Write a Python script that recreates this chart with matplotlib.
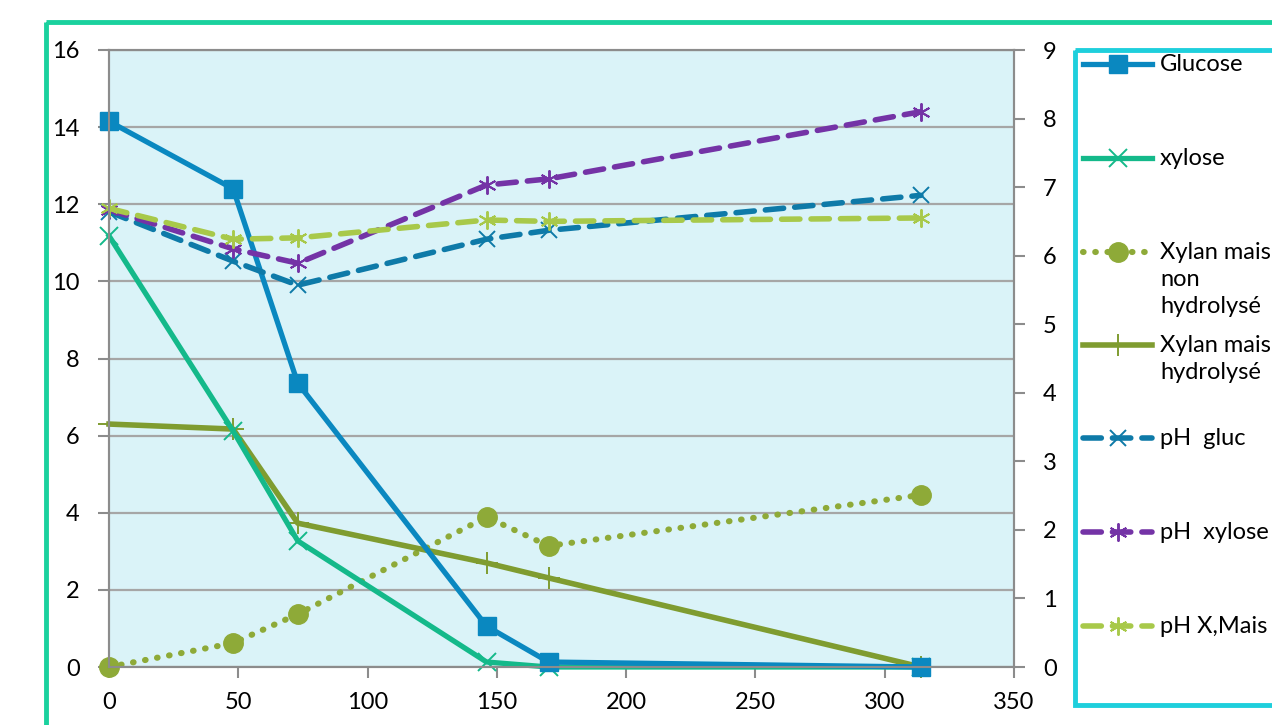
import matplotlib.pyplot as plt
from matplotlib.patches import Rectangle
from matplotlib.lines import Line2D

# hydrolysis follow-up: sugars (left axis, g/L) and pH (right axis) vs time
hours = [0, 48, 73, 146, 170, 314]
glucose = [14.15, 12.4, 7.36, 1.06, 0.13, 0.0]
xylose = [11.18, 6.12, 3.27, 0.13, 0.0, 0.0]
xylan_non_hyd = [0.0, 0.62, 1.37, 3.89, 3.14, 4.46]
xylan_hyd = [6.3, 6.17, 3.73, 2.7, 2.31, 0.0]
ph_gluc = [6.64, 5.92, 5.57, 6.24, 6.37, 6.88]
ph_xylose = [6.67, 6.1, 5.89, 7.03, 7.12, 8.1]
ph_xmais = [6.69, 6.24, 6.26, 6.52, 6.5, 6.55]

labels = ["Glucose", "xylose", "Xylan mais\nnon\nhydrolysé", "Xylan mais\nhydrolysé",
          "pH  gluc", "pH  xylose", "pH X,Mais"]

plt.rcParams['font.family'] = ['Lato', 'DejaVu Sans']

W, H = 1272, 725
fig = plt.figure(figsize=(W / 100, H / 100), dpi=100)
fig.patch.set_facecolor('white')

ax = fig.add_axes([109 / W, 1 - 667 / H, (1014 - 109) / W, (667 - 50) / H])
ax.set_facecolor('#daf3f8')
ax2 = ax.twinx()

dash = dict(linestyle=(0, (3.3, 2.0)), dash_capstyle='round', lw=4.0)

# styles: label -> (axis, y, kwargs)
series = [
    (ax, glucose, dict(color='#0a88c0', lw=3.8, marker='s', ms=13, zorder=5)),
    (ax, xylose, dict(color='#14b98a', lw=3.8, marker='x', ms=13, mew=1.4, zorder=4)),
    (ax, xylan_non_hyd, dict(color='#8eaa38', lw=4.4, linestyle=(0, (0.1, 1.9)),
                             dash_capstyle='round', marker='o', ms=14, zorder=3)),
    (ax, xylan_hyd, dict(color='#7f9c30', lw=4.0, marker='+', ms=16, mew=1.4, zorder=3)),
    (ax2, ph_gluc, dict(color='#0e7aa8', marker='x', ms=12, mew=1.4, **dash)),
    (ax2, ph_xylose, dict(color='#7433a6', marker=(6, 2, 0), ms=13, mew=1.4, **dash)),
    (ax2, ph_xmais, dict(color='#a8c94a', marker=(6, 2, 0), ms=13, mew=1.4, **dash)),
]
for a, y, kw in series:
    a.plot(hours, y, clip_on=False, **kw)

ax.set_xlim(0, 350)
ax.set_ylim(0, 16)
ax.set_xticks(range(0, 351, 50))
ax.set_yticks(range(0, 17, 2))
ax2.set_ylim(0, 9)
ax2.set_yticks(range(0, 10))

ax.yaxis.grid(True, color='#a6a6a6', lw=1.6)
ax.set_axisbelow(True)
for a in (ax, ax2):
    for s in a.spines.values():
        s.set_color('#8c8c8c')
        s.set_linewidth(1.5)
    a.tick_params(colors='#8c8c8c', labelcolor='black', labelsize=17, width=1.5, length=8)
ax.tick_params(axis='y', pad=13)
ax.tick_params(axis='x', pad=10)
ax2.tick_params(axis='y', pad=13)

# overlay in pixel units for the frames and the legend
ov = fig.add_axes([0, 0, 1, 1], zorder=10)
ov.set_xlim(0, W)
ov.set_ylim(H, 0)
ov.axis('off')
ov.patch.set_alpha(0)

ov.add_patch(Rectangle((46, 22), 1300, 800, fill=False, ec='#1ad19e', lw=3.5))
ov.add_patch(Rectangle((1075, 50), 300, 655, fill=False, ec='#1ecfdc', lw=3.5))

entry_y = [64, 158, 252, 345, 438, 532, 626]
for (a, y, kw), lab, ey in zip(series, labels, entry_y):
    kw = {k: v for k, v in kw.items() if k != 'zorder'}
    ov.add_line(Line2D([1083, 1152], [ey, ey], markevery=[], **kw))
    ov.add_line(Line2D([1118], [ey], **{k: v for k, v in kw.items()
                                         if k not in ('linestyle', 'dash_capstyle')}))
    ov.text(1160, ey - 10, lab, fontsize=17, va='top', ha='left', linespacing=1.35)

fig.savefig('out.png', dpi=100)
